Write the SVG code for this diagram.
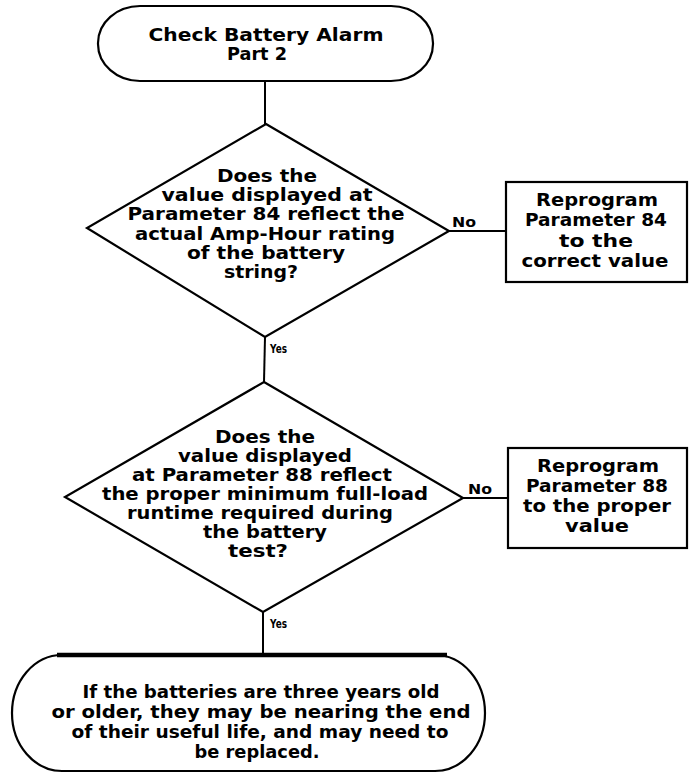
<svg xmlns="http://www.w3.org/2000/svg" width="694" height="779" viewBox="0 0 694 779">
  <style>
    .shape { fill: #ffffff; stroke: #000000; stroke-width: 2.2; }
    .wire { fill: none; stroke: #000000; stroke-width: 2; }
    .bar { stroke: #000000; stroke-width: 4.5; }
    text { font-family: "DejaVu Sans", "Liberation Sans", sans-serif; font-weight: bold; fill: #000000; }
    .t { font-size: 18.5px; text-anchor: middle; }
    .lbl { font-size: 14px; }
    .yes { font-size: 12px; }
  </style>
  <rect width="694" height="779" fill="#ffffff"/>

  <!-- connectors -->
  <g id="connectors">
    <line class="wire" x1="265" y1="80" x2="265" y2="124"/>
    <line class="wire" x1="449" y1="231" x2="506" y2="231"/>
    <text class="lbl" x="452" y="227" textLength="24" lengthAdjust="spacingAndGlyphs">No</text>
    <line class="wire" x1="265" y1="337" x2="264" y2="382"/>
    <text class="yes" x="270" y="353" textLength="17" lengthAdjust="spacingAndGlyphs">Yes</text>
    <line class="wire" x1="463" y1="498" x2="508" y2="498"/>
    <text class="lbl" x="468" y="494" textLength="24" lengthAdjust="spacingAndGlyphs">No</text>
    <line class="wire" x1="263" y1="612" x2="263" y2="655"/>
    <text class="yes" x="270" y="628" textLength="17" lengthAdjust="spacingAndGlyphs">Yes</text>
  </g>

  <!-- start terminal -->
  <g id="start">
    <rect class="shape" x="98" y="6" width="335" height="75" rx="42" ry="37"/>
    <text class="t" x="266" y="41" font-size="17" textLength="235" lengthAdjust="spacingAndGlyphs">Check Battery Alarm</text>
    <text class="t" x="257" y="60" font-size="17" textLength="60" lengthAdjust="spacingAndGlyphs">Part 2</text>
  </g>

  <!-- decision: amp-hour rating -->
  <g id="decision-84">
    <polygon class="shape" points="266,124 449,231 265,337 87,228"/>
    <text class="t" x="267" y="182" textLength="100" lengthAdjust="spacingAndGlyphs">Does the</text>
    <text class="t" x="267" y="201" textLength="211" lengthAdjust="spacingAndGlyphs">value displayed at</text>
    <text class="t" x="266" y="220" textLength="277" lengthAdjust="spacingAndGlyphs">Parameter 84 reflect the</text>
    <text class="t" x="265" y="240" textLength="260" lengthAdjust="spacingAndGlyphs">actual Amp-Hour rating</text>
    <text class="t" x="266" y="259" textLength="158" lengthAdjust="spacingAndGlyphs">of the battery</text>
    <text class="t" x="261" y="278" textLength="74" lengthAdjust="spacingAndGlyphs">string?</text>
  </g>

  <!-- action: reprogram 84 -->
  <g id="reprogram-84">
    <rect class="shape" x="506" y="182" width="181" height="100"/>
    <text class="t" x="597" y="206" textLength="122" lengthAdjust="spacingAndGlyphs">Reprogram</text>
    <text class="t" x="596" y="226" textLength="142" lengthAdjust="spacingAndGlyphs">Parameter 84</text>
    <text class="t" x="596" y="247" textLength="74" lengthAdjust="spacingAndGlyphs">to the</text>
    <text class="t" x="595" y="267" textLength="147" lengthAdjust="spacingAndGlyphs">correct value</text>
  </g>

  <!-- decision: minimum runtime -->
  <g id="decision-88">
    <polygon class="shape" points="264,382 463,498 263,612 65,497"/>
    <text class="t" x="265" y="443" textLength="100" lengthAdjust="spacingAndGlyphs">Does the</text>
    <text class="t" x="265" y="462" textLength="174" lengthAdjust="spacingAndGlyphs">value displayed</text>
    <text class="t" x="262" y="481" textLength="260" lengthAdjust="spacingAndGlyphs">at Parameter 88 reflect</text>
    <text class="t" x="265" y="500" textLength="326" lengthAdjust="spacingAndGlyphs">the proper minimum full-load</text>
    <text class="t" x="260" y="519" textLength="266" lengthAdjust="spacingAndGlyphs">runtime required during</text>
    <text class="t" x="265" y="538" textLength="124" lengthAdjust="spacingAndGlyphs">the battery</text>
    <text class="t" x="258" y="557" textLength="60" lengthAdjust="spacingAndGlyphs">test?</text>
  </g>

  <!-- action: reprogram 88 -->
  <g id="reprogram-88">
    <rect class="shape" x="508" y="448" width="179" height="100"/>
    <text class="t" x="598" y="472" textLength="122" lengthAdjust="spacingAndGlyphs">Reprogram</text>
    <text class="t" x="597" y="492" textLength="142" lengthAdjust="spacingAndGlyphs">Parameter 88</text>
    <text class="t" x="597" y="512" textLength="148" lengthAdjust="spacingAndGlyphs">to the proper</text>
    <text class="t" x="597" y="532" textLength="64" lengthAdjust="spacingAndGlyphs">value</text>
  </g>

  <!-- end terminal -->
  <g id="end">
    <rect class="shape" x="12" y="655" width="473" height="116" rx="50" ry="58"/>
    <line class="bar" x1="57" y1="655" x2="447" y2="655"/>
    <text class="t" x="261" y="698" textLength="357" lengthAdjust="spacingAndGlyphs">If the batteries are three years old</text>
    <text class="t" x="261" y="718" textLength="419" lengthAdjust="spacingAndGlyphs">or older, they may be nearing the end</text>
    <text class="t" x="260" y="738" textLength="377" lengthAdjust="spacingAndGlyphs">of their useful life, and may need to</text>
    <text class="t" x="257" y="758" textLength="125" lengthAdjust="spacingAndGlyphs">be replaced.</text>
  </g>
</svg>
